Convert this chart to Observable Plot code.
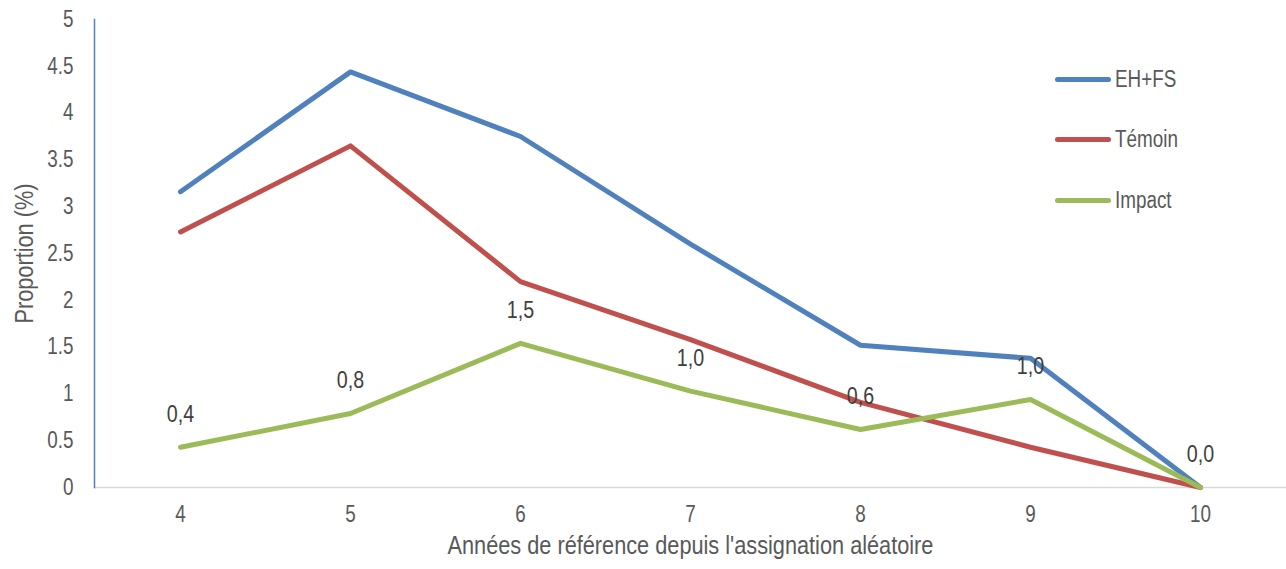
<!DOCTYPE html>
<html><head><meta charset="utf-8">
<script src="https://cdn.jsdelivr.net/npm/d3@7"></script>
<script src="https://cdn.jsdelivr.net/npm/@observablehq/plot@0.6"></script>
<style>
body{margin:0;background:#fff;font-family:"Liberation Sans",Arial,sans-serif;}
#wrap{position:relative;width:1286px;height:569px;}
#legend{position:absolute;left:1055px;top:62px;}
.li{display:flex;align-items:center;height:34px;margin-bottom:26.5px;color:#595959;font-size:23px;}
.sw{width:56px;height:5px;border-radius:3px;margin-right:4px;flex:none;}
.li span{display:inline-block;transform:scaleX(0.82);transform-origin:left center;white-space:nowrap;}
</style></head>
<body><div id="wrap"></div>
<script>
const years = [4, 5, 6, 7, 8, 9, 10];
const seriesNames = ["EH+FS", "Témoin", "Impact"];
const colors = ["#4F81BD", "#C0504D", "#9BBB59"];
const ehfs = [3.16, 4.44, 3.75, 2.60, 1.52, 1.38, 0];
const temoin = [2.73, 3.65, 2.20, 1.58, 0.91, 0.43, 0];
const impact = [0.43, 0.79, 1.54, 1.03, 0.62, 0.94, 0];
const impactLabels = ["0,4", "0,8", "1,5", "1,0", "0,6", "1,0", "0,0"];
const yTicks = [0, 0.5, 1, 1.5, 2, 2.5, 3, 3.5, 4, 4.5, 5];
const yTitle = "Proportion (%)";
const xTitle = "Années de référence depuis l'assignation aléatoire";

const allSeries = [ehfs, temoin, impact];
const rows = [];
seriesNames.forEach((s, i) => years.forEach((y, j) => rows.push({series: s, year: y, value: allSeries[i][j]})));
const labelRows = years.map((y, j) => ({year: y, value: impact[j], label: impactLabels[j]}));

const font = '"Liberation Sans",Arial,sans-serif';
const plot = Plot.plot({
  width: 1286, height: 569,
  marginLeft: 94, marginRight: 0, marginTop: 19, marginBottom: 82,
  style: {fontFamily: font, fontSize: "23px", color: "#595959", background: "#fff"},
  x: {type: "point", domain: years, padding: 0.5, label: null},
  y: {domain: [0, 5], label: null},
  color: {domain: seriesNames, range: colors},
  marks: [
    Plot.frame({anchor: "bottom", stroke: "#D9D9D9", strokeWidth: 1.5}),
    Plot.frame({anchor: "left", stroke: "#4F81BD", strokeWidth: 1.5}),
    Plot.axisY({ticks: yTicks, tickSize: 0, tickPadding: 21, tickFormat: d => String(d), fontSize: 23, label: null}),
    Plot.axisX({tickSize: 0, tickPadding: 18, fontSize: 23, label: null}),
    Plot.text([yTitle], {frameAnchor: "left", textAnchor: "middle", dx: -70, rotate: -90, fontSize: 26.5, fill: "#595959", text: d => d}),
    Plot.text([xTitle], {frameAnchor: "bottom", dy: 66, fontSize: 26.5, fill: "#595959", text: d => d}),
    Plot.line(rows, {x: "year", y: "value", z: "series", stroke: "series", strokeWidth: 5, strokeLinecap: "round", strokeLinejoin: "round"}),
    Plot.text(labelRows, {x: "year", y: "value", text: "label", dy: -33, fontSize: 24, fill: "#404040"})
  ]
});
document.getElementById("wrap").appendChild(plot);
// narrow the glyphs horizontally (Arial Narrow look) around each text's own anchor
plot.querySelectorAll("text").forEach(t => {
  const tr = t.getAttribute("transform");
  if (tr) {
    t.setAttribute("transform", tr + " scale(0.82,1)");
  } else {
    const x = +t.getAttribute("x") || 0, y = +t.getAttribute("y") || 0;
    t.setAttribute("transform", `translate(${x},${y}) scale(0.82,1) translate(${-x},${-y})`);
  }
});
const leg = document.createElement("div");
leg.id = "legend";
leg.innerHTML = seriesNames.map((s, i) => `<div class="li"><div class="sw" style="background:${colors[i]}"></div><span>${s}</span></div>`).join("");
document.getElementById("wrap").appendChild(leg);
</script></body></html>
